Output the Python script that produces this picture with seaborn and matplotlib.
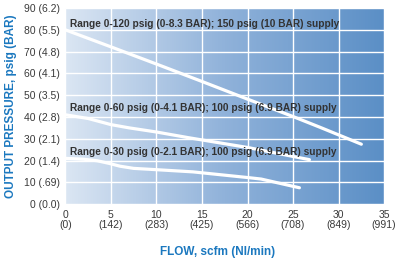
import numpy as np
import pandas as pd
import seaborn as sns
import matplotlib.pyplot as plt
from matplotlib.colors import LinearSegmentedColormap

# flow (scfm) vs output pressure (psig) for the three regulator ranges
flow_120 = [0, 5, 10, 15, 20, 25, 28, 32.5]
psig_120 = [80, 72.2, 64.3, 56.3, 48.2, 40.2, 35.2, 27.5]

flow_60 = [0, 2.5, 5, 7, 10, 13.5, 20, 26.8]
psig_60 = [41, 39.3, 36.5, 35, 33.1, 30.5, 26, 20.4]

flow_30 = [0, 2, 3.5, 4.8, 6, 7.5, 10, 14, 20, 21.5, 25.7]
psig_30 = [21, 20.6, 19.9, 18.7, 17.4, 16.4, 15.8, 14.8, 12.2, 11.5, 7.5]

range_labels = ["Range 0-120 psig (0-8.3 BAR); 150 psig (10 BAR) supply",
                "Range 0-60 psig (0-4.1 BAR); 100 psig (6.9 BAR) supply",
                "Range 0-30 psig (0-2.1 BAR); 100 psig (6.9 BAR) supply"]
label_y = [82.8, 44, 24]

x_ticks = [0, 5, 10, 15, 20, 25, 30, 35]
x_tick_labels = ["0\n(0)", "5\n(142)", "10\n(283)", "15\n(425)", "20\n(566)",
                 "25\n(708)", "30\n(849)", "35\n(991)"]
y_ticks = [0, 10, 20, 30, 40, 50, 60, 70, 80, 90]
y_tick_labels = ["0 (0.0)", "10 (.69)", "20 (1.4)", "30 (2.1)", "40 (2.8)",
                 "50 (3.5)", "60 (4.1)", "70 (4.8)", "80 (5.5)", "90 (6.2)"]

sns.set_theme(style="white")
plt.rcParams['font.family'] = ['Liberation Sans', 'DejaVu Sans']

fig = plt.figure(figsize=(3.96, 2.6), dpi=100)
ax = fig.add_axes([0.165, 0.215, 0.805, 0.754])

# background gradient
cmap = LinearSegmentedColormap.from_list("bg", ["#dbe6f3", "#90b2da", "#5b8fc6"])
ax.imshow(np.linspace(0, 1, 256).reshape(1, -1), cmap=cmap, aspect='auto',
          extent=[0, 1, 0, 1], transform=ax.transAxes, zorder=0)

for xs, ys in [(flow_120, psig_120), (flow_60, psig_60), (flow_30, psig_30)]:
    df = pd.DataFrame({"flow": xs, "psig": ys})
    sns.lineplot(data=df, x="flow", y="psig", color="white", lw=2.3, ax=ax, zorder=3)

for txt, yy in zip(range_labels, label_y):
    ax.text(0.5, yy, txt, ha='left', va='center', fontsize=7.3,
            fontweight='bold', color='#333333', zorder=4)

ax.set_xlim(0, 35)
ax.set_ylim(0, 90)
ax.set_xticks(x_ticks)
ax.set_xticklabels(x_tick_labels, fontsize=7.5, color='#3a3a3a', linespacing=1.1)
ax.set_yticks(y_ticks)
ax.set_yticklabels(y_tick_labels, fontsize=7.5, color='#3a3a3a')
ax.tick_params(length=0, pad=4)
ax.grid(True, color='white', lw=1)
ax.set_axisbelow(False)
for gl in ax.get_xgridlines() + ax.get_ygridlines():
    gl.set_zorder(1)
sns.despine(ax=ax, left=True, bottom=True)

ax.set_xlabel("FLOW, scfm (Nl/min)", fontsize=8.5, fontweight='bold', color='#1b78bf')
ax.set_ylabel("OUTPUT PRESSURE, psig (BAR)", fontsize=8.5, fontweight='bold', color='#1b78bf')
ax.xaxis.set_label_coords(0.478, -0.214)
ax.yaxis.set_label_coords(-0.152, 0.5)

plt.savefig('out.png', dpi=100)
